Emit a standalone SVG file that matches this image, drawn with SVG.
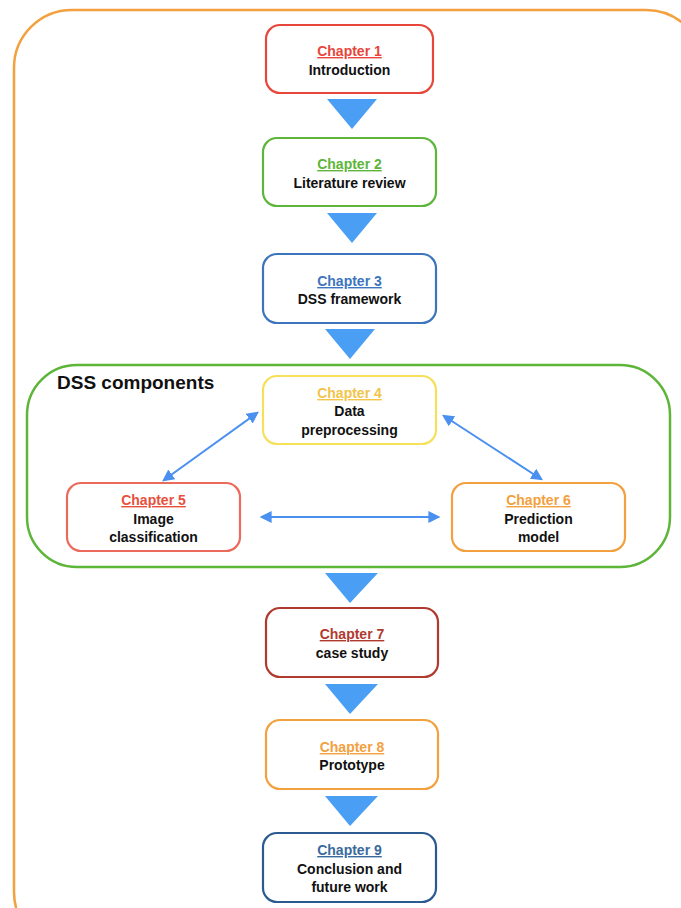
<svg xmlns="http://www.w3.org/2000/svg" width="681" height="908" viewBox="0 0 681 908">
  <style>
    .box { fill: #ffffff; stroke-width: 2.2; }
    .ch { font-family: "Liberation Sans", Arial, sans-serif; font-size: 14px; font-weight: bold; text-anchor: middle; text-decoration: underline; }
    .lbl { font-family: "Liberation Sans", Arial, sans-serif; font-size: 14px; font-weight: bold; text-anchor: middle; fill: #111111; }
    .step { fill: #4a9ff5; }
    .link { stroke: #4a90f0; stroke-width: 2; fill: none; marker-start: url(#head); marker-end: url(#head); }
  </style>
  <defs>
    <marker id="head" viewBox="0 0 10 10" refX="8" refY="5" markerWidth="6" markerHeight="6" orient="auto-start-reverse" markerUnits="strokeWidth">
      <path d="M0,0 L10,5 L0,10 Z" fill="#4a90f0"/>
    </marker>
  </defs>

  <!-- outer frame -->
  <rect id="frame" x="14" y="10" width="690" height="940" rx="58" fill="none" stroke="#f3a03e" stroke-width="2.5"/>

  <!-- DSS components container -->
  <g id="dss">
    <rect x="27" y="365" width="643" height="202" rx="50" fill="none" stroke="#5db53a" stroke-width="2.5"/>
    <text x="57" y="389" font-family="'Liberation Sans', Arial, sans-serif" font-size="19" font-weight="bold" fill="#111111">DSS components</text>
  </g>

  <!-- flow connectors -->
  <g id="connectors">
    <polygon class="step" points="327,99 377,99 352,129"/>
    <polygon class="step" points="327,213 377,213 352,243"/>
    <polygon class="step" points="325,329 375,329 350,359"/>
    <polygon class="step" points="325,573 378,573 350,603"/>
    <polygon class="step" points="325,684 378,684 350,714"/>
    <polygon class="step" points="325,796 378,796 350,826"/>
    <line class="link" x1="257" y1="413" x2="164" y2="480"/>
    <line class="link" x1="444" y1="416" x2="541" y2="479"/>
    <line class="link" x1="262" y1="517" x2="438" y2="517"/>
  </g>

  <g id="ch1">
    <rect class="box" x="266" y="25" width="167" height="68" rx="14" stroke="#e8463a"/>
    <text class="ch" x="349.5" y="56" fill="#e8463a">Chapter 1</text>
    <text class="lbl" x="349.5" y="75">Introduction</text>
  </g>
  <g id="ch2">
    <rect class="box" x="263" y="138" width="173" height="68" rx="14" stroke="#5db53a"/>
    <text class="ch" x="349.5" y="169" fill="#5db53a">Chapter 2</text>
    <text class="lbl" x="349.5" y="188">Literature review</text>
  </g>
  <g id="ch3">
    <rect class="box" x="263" y="254" width="173" height="69" rx="14" stroke="#3c75bd"/>
    <text class="ch" x="349.5" y="286" fill="#3c75bd">Chapter 3</text>
    <text class="lbl" x="349.5" y="304">DSS framework</text>
  </g>
  <g id="ch4">
    <rect class="box" x="263" y="376" width="173" height="68" rx="14" stroke="#f6e05a"/>
    <text class="ch" x="349.5" y="398" fill="#f2c44a">Chapter 4</text>
    <text class="lbl" x="349.5" y="416">Data</text>
    <text class="lbl" x="349.5" y="435">preprocessing</text>
  </g>
  <g id="ch5">
    <rect class="box" x="67" y="483" width="173" height="68" rx="14" stroke="#ec6a5c"/>
    <text class="ch" x="153.5" y="505" fill="#e8503e">Chapter 5</text>
    <text class="lbl" x="153.5" y="524">Image</text>
    <text class="lbl" x="153.5" y="542">classification</text>
  </g>
  <g id="ch6">
    <rect class="box" x="452" y="483" width="173" height="68" rx="14" stroke="#f3a03e"/>
    <text class="ch" x="538.5" y="505" fill="#f3a03e">Chapter 6</text>
    <text class="lbl" x="538.5" y="524">Prediction</text>
    <text class="lbl" x="538.5" y="542">model</text>
  </g>
  <g id="ch7">
    <rect class="box" x="266" y="608" width="172" height="69" rx="14" stroke="#b03a2e"/>
    <text class="ch" x="352" y="639" fill="#b03a2e">Chapter 7</text>
    <text class="lbl" x="352" y="658">case study</text>
  </g>
  <g id="ch8">
    <rect class="box" x="266" y="720" width="172" height="69" rx="14" stroke="#f3a03e"/>
    <text class="ch" x="352" y="752" fill="#f3a03e">Chapter 8</text>
    <text class="lbl" x="352" y="770">Prototype</text>
  </g>
  <g id="ch9">
    <rect class="box" x="263" y="833" width="173" height="69" rx="14" stroke="#2a5a90"/>
    <text class="ch" x="349.5" y="855" fill="#3a6a9c">Chapter 9</text>
    <text class="lbl" x="349.5" y="874">Conclusion and</text>
    <text class="lbl" x="349.5" y="892">future work</text>
  </g>
</svg>
